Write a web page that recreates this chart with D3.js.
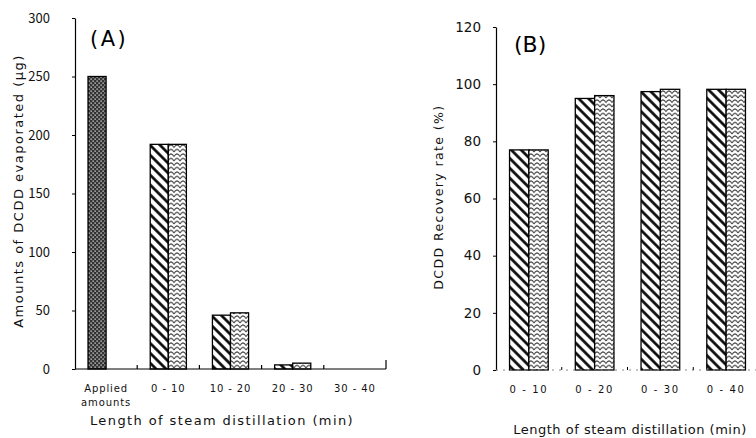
<!DOCTYPE html>
<html>
<head>
<meta charset="utf-8">
<script src="https://cdn.jsdelivr.net/npm/d3@7"></script>
<style>
  body { margin: 0; background: #fff; }
  svg { display: block; }
</style>
</head>
<body>
<svg id="chart" width="756" height="438"></svg>
<script>
// panel A data
const catsA = ['Applied amounts', '0 - 10', '10 - 20', '20 - 30', '30 - 40'];
const appliedAmount = [250];
const evapStriped = [192, 46, 3.5, 0];
const evapWave = [192, 48, 5, 0];
const ticksA = [0, 50, 100, 150, 200, 250, 300];

// panel B data
const catsB = ['0 - 10', '0 - 20', '0 - 30', '0 - 40'];
const recStriped = [77, 95, 97.4, 98.2];
const recWave = [77, 96, 98.2, 98.2];
const ticksB = [0, 20, 40, 60, 80, 100, 120];

const svg = d3.select('#chart');
const defs = svg.append('defs');

// hatch patterns
const stripe = defs.append('pattern')
  .attr('id', 'stripe')
  .attr('patternUnits', 'userSpaceOnUse')
  .attr('width', 7).attr('height', 7)
  .attr('patternTransform', 'rotate(45)');
stripe.append('rect').attr('width', 7).attr('height', 7).attr('fill', '#fff');
stripe.append('line')
  .attr('x1', 0).attr('x2', 7).attr('y1', 3.5).attr('y2', 3.5)
  .attr('stroke', '#000').attr('stroke-width', 2.6);

const wave = defs.append('pattern')
  .attr('id', 'wave')
  .attr('patternUnits', 'userSpaceOnUse')
  .attr('width', 6).attr('height', 4.5);
wave.append('rect').attr('width', 6).attr('height', 4.5).attr('fill', '#fff');
wave.append('path')
  .attr('d', 'M0,3.5 L1.5,1.5 L3,0.8 L4.5,1.5 L6,3.5')
  .attr('fill', 'none').attr('stroke', '#333').attr('stroke-width', 1);

const cross = defs.append('pattern')
  .attr('id', 'cross')
  .attr('patternUnits', 'userSpaceOnUse')
  .attr('width', 4).attr('height', 4);
cross.append('rect').attr('width', 4).attr('height', 4).attr('fill', '#333');
cross.append('rect').attr('x', 0.5).attr('y', 0.5).attr('width', 1.2).attr('height', 1.2).attr('fill', '#fff');
cross.append('rect').attr('x', 2.5).attr('y', 2.5).attr('width', 1.2).attr('height', 1.2).attr('fill', '#fff');

function barGroup(g, xBand, sub, y, key, vals, cats, fill) {
  g.selectAll(null)
    .data(vals.map((v, i) => ({ cat: cats[i], v: v })).filter((d) => d.v > 0))
    .enter()
    .append('rect')
    .attr('x', (d) => xBand(d.cat) + sub(key))
    .attr('y', (d) => y(d.v))
    .attr('width', sub.bandwidth())
    .attr('height', (d) => y(0) - y(d.v))
    .attr('fill', fill)
    .attr('stroke', '#000')
    .attr('stroke-width', 1.3);
}

// ---------- panel A ----------
const xA = d3.scaleBand().domain(catsA).range([75, 386]);
const subA = d3.scaleBand().domain(['s', 'w']).range([0, xA.bandwidth()]).paddingOuter(0.72);
const yA = d3.scaleLinear().domain([0, 300]).range([369, 18]);

const gA = svg.append('g');
barGroup(gA, xA, subA, yA, 's', appliedAmount, catsA, 'url(#cross)');
barGroup(gA, xA, subA, yA, 's', evapStriped, catsA.slice(1), 'url(#stripe)');
barGroup(gA, xA, subA, yA, 'w', evapWave, catsA.slice(1), 'url(#wave)');

const yAxisA = svg.append('g')
  .attr('transform', 'translate(75,0)')
  .call(d3.axisLeft(yA).tickValues(ticksA).tickSize(3).tickPadding(22).tickSizeOuter(0));
yAxisA.select('.domain').attr('stroke-width', 1.2);
yAxisA.selectAll('.tick text')
  .attr('font-family', "'Liberation Sans Narrow', 'Noto Sans CJK JP', sans-serif")
  .attr('font-size', 13).attr('fill', '#111');

// x axis A: baseline with inward ticks at band boundaries
svg.append('line')
  .attr('x1', 75).attr('x2', 386).attr('y1', yA(0)).attr('y2', yA(0))
  .attr('stroke', '#000').attr('stroke-width', 1.2);
svg.append('g').selectAll('line')
  .data(catsA.slice(1))
  .enter()
  .append('line')
  .attr('x1', (d) => xA(d)).attr('x2', (d) => xA(d))
  .attr('y1', yA(0)).attr('y2', yA(0) - 4)
  .attr('stroke', '#000').attr('stroke-width', 1.2);
svg.append('line')
  .attr('x1', 386).attr('x2', 386).attr('y1', yA(0)).attr('y2', yA(0) - 9)
  .attr('stroke', '#000').attr('stroke-width', 1.2);

const labA = svg.append('g')
  .attr('font-family', "'DejaVu Sans', sans-serif")
  .attr('font-size', 10).attr('letter-spacing', 0.9)
  .attr('fill', '#111').attr('text-anchor', 'middle');
labA.selectAll('text')
  .data(catsA)
  .enter()
  .append('text')
  .attr('x', (d) => xA(d) + xA.bandwidth() / 2)
  .attr('y', 392)
  .each(function (d) {
    const parts = d === 'Applied amounts' ? ['Applied', 'amounts'] : [d];
    parts.forEach((p, i) => {
      d3.select(this).append('tspan')
        .attr('x', xA(d) + xA.bandwidth() / 2)
        .attr('dy', i === 0 ? 0 : 14)
        .text(p);
    });
  });

svg.append('text')
  .attr('x', 222).attr('y', 425)
  .attr('text-anchor', 'middle')
  .attr('font-family', "'DejaVu Sans', sans-serif")
  .attr('font-size', 13).attr('letter-spacing', 1.4).attr('fill', '#111')
  .text('Length of steam distillation (min)');

svg.append('text')
  .attr('transform', 'translate(23,191) rotate(-90)')
  .attr('text-anchor', 'middle')
  .attr('font-family', "'DejaVu Sans', sans-serif")
  .attr('font-size', 13).attr('letter-spacing', 1.5).attr('fill', '#111')
  .text('Amounts of DCDD evaporated (μg)');

svg.append('text')
  .attr('x', 90).attr('y', 46)
  .attr('font-family', "'DejaVu Sans', sans-serif")
  .attr('font-size', 21).attr('letter-spacing', 2.5).attr('fill', '#000')
  .text('(A)');

// ---------- panel B ----------
const xB = d3.scaleBand().domain(catsB).range([496, 759]);
const subB = d3.scaleBand().domain(['s', 'w']).range([0, xB.bandwidth()]).paddingOuter(0.7);
const yB = d3.scaleLinear().domain([0, 120]).range([370, 27]);

const gB = svg.append('g');
barGroup(gB, xB, subB, yB, 's', recStriped, catsB, 'url(#stripe)');
barGroup(gB, xB, subB, yB, 'w', recWave, catsB, 'url(#wave)');

const yAxisB = svg.append('g')
  .attr('transform', 'translate(496,0)')
  .call(d3.axisLeft(yB).tickValues(ticksB).tickSize(3).tickPadding(12).tickSizeOuter(0));
yAxisB.select('.domain').attr('stroke-width', 1.2);
yAxisB.selectAll('.tick text')
  .attr('font-family', "'DejaVu Sans', sans-serif")
  .attr('font-size', 13.5).attr('fill', '#111');

// faint broken baseline of panel B
svg.append('line')
  .attr('x1', 496).attr('x2', 759).attr('y1', yB(0)).attr('y2', yB(0))
  .attr('stroke', '#888').attr('stroke-width', 1)
  .attr('stroke-dasharray', '2,5');
svg.append('g').selectAll('line')
  .data(catsB.slice(1))
  .enter()
  .append('line')
  .attr('x1', (d) => xB(d)).attr('x2', (d) => xB(d))
  .attr('y1', yB(0)).attr('y2', yB(0) - 3)
  .attr('stroke', '#000').attr('stroke-width', 1);

svg.append('g')
  .attr('font-family', "'DejaVu Sans', sans-serif")
  .attr('font-size', 10).attr('letter-spacing', 1.6)
  .attr('fill', '#111').attr('text-anchor', 'middle')
  .selectAll('text')
  .data(catsB)
  .enter()
  .append('text')
  .attr('x', (d) => xB(d) + xB.bandwidth() / 2)
  .attr('y', 393)
  .text((d) => d);

svg.append('text')
  .attr('x', 630).attr('y', 434)
  .attr('text-anchor', 'middle')
  .attr('font-family', "'DejaVu Sans', sans-serif")
  .attr('font-size', 13).attr('letter-spacing', 0.5).attr('fill', '#111')
  .text('Length of steam distillation (min)');

svg.append('text')
  .attr('transform', 'translate(443,197) rotate(-90)')
  .attr('text-anchor', 'middle')
  .attr('font-family', "'DejaVu Sans', sans-serif")
  .attr('font-size', 12.5).attr('letter-spacing', 1.4).attr('fill', '#111')
  .text('DCDD Recovery rate (%)');

svg.append('text')
  .attr('x', 514).attr('y', 52)
  .attr('font-family', "'DejaVu Sans', sans-serif")
  .attr('font-size', 22).attr('fill', '#000')
  .text('(B)');
</script>
</body>
</html>
